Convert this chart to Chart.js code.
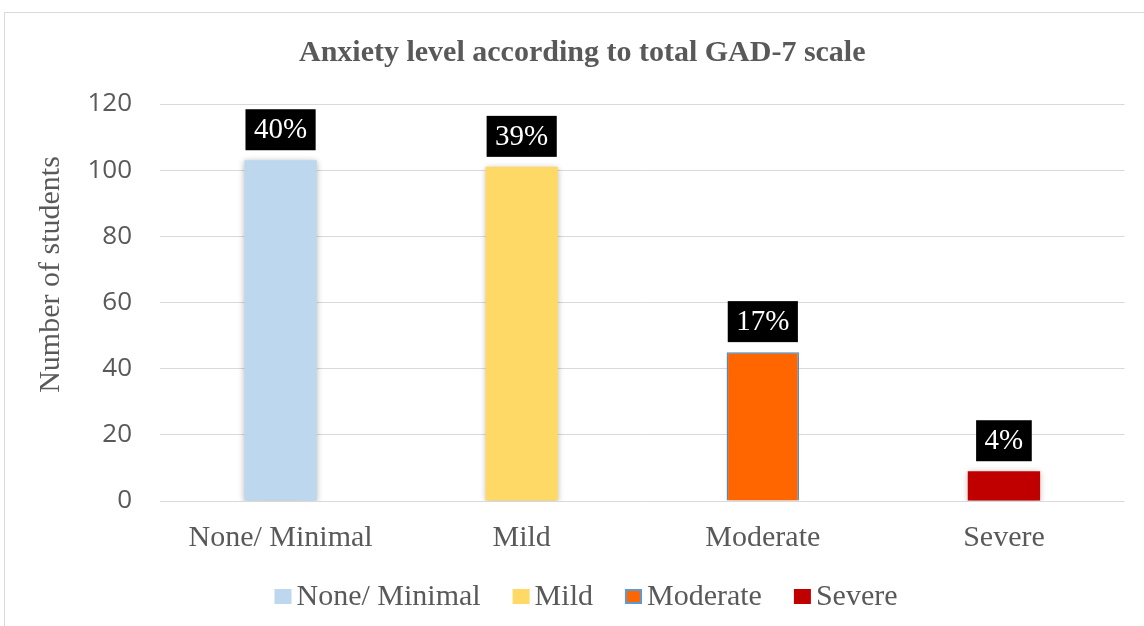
<!DOCTYPE html>
<html>
<head>
<meta charset="utf-8">
<script src="https://cdn.jsdelivr.net/npm/chart.js@4.4.1/dist/chart.umd.min.js"></script>
<style>
  html, body { margin: 0; padding: 0; background: #fff; overflow: hidden; }
  #frame { position: absolute; left: 4px; top: 12px; width: 1160px; height: 640px; border: 1px solid #d9d9d9; box-sizing: border-box; }
  #wrap { position: absolute; left: 0; top: 0; width: 1144px; height: 626px; }
</style>
</head>
<body>
<div id="frame"></div>
<div id="wrap"><canvas id="c" width="1144" height="626"></canvas></div>
<script>
const categories = ['None/ Minimal', 'Mild', 'Moderate', 'Severe'];
const studentCounts = [103, 101, 45, 9];
const percentLabels = ['40%', '39%', '17%', '4%'];
const barColors = ['#BDD7EE', '#FFD966', '#FF6600', '#C00000'];
const barBorders = ['#BDD7EE', '#FFD966', '#5B9BD5', '#C00000'];
const barBorderWidths = [0, 0, 1.5, 0];
const yTicks = { min: 0, max: 120, step: 20 };
const chartTitle = 'Anxiety level according to total GAD-7 scale';
const yAxisTitle = 'Number of students';

const GREY = '#595959';
const SERIF = '"Liberation Serif", "Times New Roman", serif';

const datasets = categories.map((cat, i) => ({
  label: cat,
  data: studentCounts.map((v, j) => (j === i ? v : null)),
  backgroundColor: barColors[i],
  borderColor: barBorders[i],
  borderWidth: barBorderWidths[i],
  pctLabel: percentLabels[i]
}));

const shadowPlugin = {
  id: 'shadow',
  beforeDatasetsDraw(chart) {
    const ctx = chart.ctx;
    ctx.save();
    ctx.shadowColor = 'rgba(0,0,0,0.28)';
    ctx.shadowBlur = 6;
    ctx.shadowOffsetX = 0;
    ctx.shadowOffsetY = 1;
  },
  afterDatasetsDraw(chart) {
    chart.ctx.restore();
  }
};

const labelsPlugin = {
  id: 'pctLabels',
  afterDraw(chart) {
    const ctx = chart.ctx;
    ctx.save();
    ctx.font = '29px ' + SERIF;
    ctx.textAlign = 'center';
    ctx.textBaseline = 'middle';
    chart.data.datasets.forEach((ds, i) => {
      const meta = chart.getDatasetMeta(i);
      meta.data.forEach((el, j) => {
        if (ds.data[j] === null || ds.data[j] === undefined) return;
        const txt = ds.pctLabel;
        const tw = ctx.measureText(txt).width;
        const w = tw + 17;
        const h = 41;
        const bottom = el.y - 10;
        ctx.fillStyle = '#000';
        ctx.fillRect(el.x - w / 2, bottom - h, w, h);
        ctx.fillStyle = '#fff';
        ctx.fillText(txt, el.x, bottom - h / 2 + 1);
      });
    });
    ctx.restore();
  }
};

const yTitlePlugin = {
  id: 'yTitle',
  afterDraw(chart) {
    const ctx = chart.ctx;
    const a = chart.chartArea;
    ctx.save();
    ctx.font = '30px ' + SERIF;
    ctx.fillStyle = GREY;
    ctx.textAlign = 'center';
    ctx.textBaseline = 'middle';
    ctx.translate(51, (a.top + a.bottom) / 2 - 28);
    ctx.rotate(-Math.PI / 2);
    ctx.fillText(yAxisTitle, 0, 0);
    ctx.restore();
  }
};

const legendPlugin = {
  id: 'customLegend',
  afterDraw(chart) {
    const ctx = chart.ctx;
    const a = chart.chartArea;
    ctx.save();
    ctx.font = '30px ' + SERIF;
    const boxW = 17, boxH = 15, gapBT = 5, gapItem = 32;
    const items = chart.data.datasets.map(ds => ({
      text: ds.label,
      w: ctx.measureText(ds.label).width,
      fill: ds.backgroundColor,
      border: ds.borderColor,
      bw: ds.borderWidth
    }));
    let total = 0;
    items.forEach((it, i) => { total += boxW + gapBT + it.w + (i ? gapItem : 0); });
    let x = chart.width / 2 + 14 - total / 2;
    const baseline = a.bottom + 104;
    const boxTop = a.bottom + 88;
    items.forEach(it => {
      ctx.fillStyle = it.fill;
      ctx.fillRect(x, boxTop, boxW, boxH);
      if (it.bw > 0) {
        ctx.strokeStyle = it.border;
        ctx.lineWidth = 2;
        ctx.strokeRect(x + 1, boxTop + 1, boxW - 2, boxH - 2);
      }
      ctx.fillStyle = GREY;
      ctx.textBaseline = 'alphabetic';
      ctx.textAlign = 'left';
      ctx.fillText(it.text, x + boxW + gapBT, baseline);
      x += boxW + gapBT + it.w + gapItem;
    });
    ctx.restore();
  }
};

new Chart(document.getElementById('c'), {
  type: 'bar',
  data: { labels: categories, datasets },
  options: {
    responsive: false,
    animation: false,
    devicePixelRatio: 1,
    layout: { padding: { left: 40, right: 19.5, top: 0, bottom: 51 } },
    datasets: { bar: { skipNull: true, categoryPercentage: 1, barPercentage: 0.3 } },
    plugins: {
      legend: { display: false },
      tooltip: { enabled: false },
      title: {
        display: true,
        text: chartTitle,
        color: GREY,
        font: { family: SERIF, size: 30, weight: 'bold' },
        padding: { top: 35, bottom: 33 }
      }
    },
    scales: {
      x: {
        grid: { display: false, drawTicks: false },
        border: { display: false },
        ticks: { color: GREY, font: { family: SERIF, size: 30 }, padding: 19, maxRotation: 0 }
      },
      y: {
        min: yTicks.min,
        max: yTicks.max,
        afterFit(scale) { scale.width = 120; },
        grid: { color: '#d9d9d9', lineWidth: 1, drawTicks: false },
        border: { display: false },
        ticks: { stepSize: yTicks.step, color: GREY, font: { family: '"Open Sans", sans-serif', size: 26 }, padding: 28 }
      }
    }
  },
  plugins: [shadowPlugin, labelsPlugin, yTitlePlugin, legendPlugin]
});
</script>
</body>
</html>
